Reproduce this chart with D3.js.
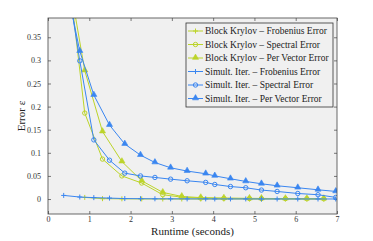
<!DOCTYPE html>
<html>
<head>
<meta charset="utf-8">
<script src="https://cdn.jsdelivr.net/npm/d3@7"></script>
<style>
  body { margin: 0; background: #fff; }
  text { font-family: "Liberation Serif", "DejaVu Serif", serif; }
</style>
</head>
<body>
<script>
// chart size
var w = 373;
var h = 241;
var margin = {top: 18, right: 36, bottom: 27, left: 48};

// runtimes (seconds) for each method
var krylovTime = [0.45, 0.89, 1.32, 1.79, 2.27, 2.78, 3.24, 3.7, 4.26, 4.88, 5.17, 5.75, 6.27, 6.68];
var simultTime = [0.38, 0.77, 1.11, 1.49, 1.86, 2.24, 2.59, 2.97, 3.37, 3.82, 4.04, 4.42, 4.79, 5.17, 5.55, 6.05, 6.54, 6.97];

// error values
var krylovFrob = [null, 0.0035, 0.0008, 0.0004, 0.0002, 0.0001, 0.0001, 0, 0, 0, 0, 0, 0, 0];
var krylovSpec = [0.526, 0.186, 0.0864, 0.050, 0.0346, 0.0093, 0.004, 0.002, 0.0015, 0.001, 0.001, 0.0008, 0.0006, 0.0005];
var krylovPerVec = [0.506, 0.278, 0.146, 0.081, 0.0395, 0.0143, 0.0056, 0.003, 0.002, 0.0015, 0.0013, 0.001, 0.0009, 0.0008];
var simultFrob = [0.0078, 0.0043, 0.003, 0.002, 0.001, 0.0007, 0.0005, 0.0004, 0.0003, 0.0003, 0.0002, 0.0002, 0.0002, 0.0001, 0.0001, 0.0001, 0.0001, 0.0001];
var simultSpec = [0.52, 0.299, 0.128, 0.084, 0.056, 0.050, 0.0467, 0.043, 0.0395, 0.036, 0.0315, 0.027, 0.0244, 0.0194, 0.0164, 0.012, 0.0093, 0.0035];
var simultPerVec = [0.49, 0.32, 0.225, 0.16, 0.119, 0.095, 0.079, 0.0676, 0.0605, 0.0547, 0.050, 0.0439, 0.038, 0.033, 0.0287, 0.0244, 0.020, 0.0164];

// tick labels
var xTicks = [0, 1, 2, 3, 4, 5, 6, 7];
var yTicks = [0, 0.05, 0.1, 0.15, 0.2, 0.25, 0.3, 0.35];

var green = "#bcd42a";
var blue = "#3a86f0";

var series = [
  {name: "Block Krylov \u2013 Frobenius Error", t: krylovTime, e: krylovFrob, color: green, marker: "plus"},
  {name: "Block Krylov \u2013 Spectral Error", t: krylovTime, e: krylovSpec, color: green, marker: "circle"},
  {name: "Block Krylov \u2013 Per Vector Error", t: krylovTime, e: krylovPerVec, color: green, marker: "triangle"},
  {name: "Simult. Iter. \u2013 Frobenius Error", t: simultTime, e: simultFrob, color: blue, marker: "plus"},
  {name: "Simult. Iter. \u2013 Spectral Error", t: simultTime, e: simultSpec, color: blue, marker: "circle"},
  {name: "Simult. Iter. \u2013 Per Vector Error", t: simultTime, e: simultPerVec, color: blue, marker: "triangle"}
];

var svg = d3.select("body")
            .append("svg")
            .attr("width", w)
            .attr("height", h);

var x = d3.scaleLinear().domain([0, 7]).range([margin.left, w - margin.right]);
var y = d3.scaleLinear().domain([-0.0324, 0.3917]).range([h - margin.bottom, margin.top]);

var pw = w - margin.right - margin.left;
var ph = h - margin.bottom - margin.top;

// plot background
svg.append("rect")
  .attr("x", margin.left).attr("y", margin.top)
  .attr("width", pw).attr("height", ph)
  .attr("fill", "#f0f0f0");

svg.append("clipPath").attr("id", "clip")
  .append("rect")
  .attr("x", margin.left).attr("y", margin.top)
  .attr("width", pw).attr("height", ph);

// axes with inward ticks on all sides
function styleAxis(g) {
  g.select(".domain").remove();
  g.selectAll("line").attr("stroke", "#444").attr("stroke-width", 0.7);
  g.selectAll("text").attr("fill", "#333").style("fill", "#333").style("font-size", "8px")
    .style("font-family", "Liberation Serif, serif");
}
svg.append("g")
  .attr("transform", "translate(0," + (h - margin.bottom) + ")")
  .call(d3.axisBottom(x).tickValues(xTicks).tickSize(-3).tickPadding(2).tickFormat(d3.format("d")))
  .call(styleAxis);
svg.append("g")
  .attr("transform", "translate(0," + margin.top + ")")
  .call(d3.axisTop(x).tickValues(xTicks).tickSize(-3).tickFormat(""))
  .call(styleAxis);
svg.append("g")
  .attr("transform", "translate(" + margin.left + ",0)")
  .call(d3.axisLeft(y).tickValues(yTicks).tickSize(-3).tickPadding(7).tickFormat(function(d) { return d3.format("~g")(d); }))
  .call(styleAxis);
svg.append("g")
  .attr("transform", "translate(" + (w - margin.right) + ",0)")
  .call(d3.axisRight(y).tickValues(yTicks).tickSize(-3).tickFormat(""))
  .call(styleAxis);

var plot = svg.append("g").attr("clip-path", "url(#clip)");

var line = d3.line()
  .defined(function(d) { return d[1] !== null; })
  .x(function(d) { return x(d[0]); })
  .y(function(d) { return y(d[1]); });

function drawMarker(g, type, cx, cy, color) {
  if (type === "plus") {
    g.append("path")
      .attr("d", "M" + (cx - 2.5) + "," + cy + "H" + (cx + 2.5) + "M" + cx + "," + (cy - 2.5) + "V" + (cy + 2.5))
      .attr("stroke", color).attr("stroke-width", 1);
  } else if (type === "circle") {
    g.append("circle").attr("cx", cx).attr("cy", cy).attr("r", 2.2)
      .attr("fill", "none").attr("stroke", color).attr("stroke-width", 1);
  } else {
    g.append("path")
      .attr("d", d3.symbol().type(d3.symbolTriangle).size(16)())
      .attr("transform", "translate(" + cx + "," + (cy - 0.4) + ")")
      .attr("fill", color).attr("stroke", color).attr("stroke-width", 0.6);
  }
}

series.forEach(function(s) {
  var pts = s.t.map(function(t, i) { return [t, s.e[i]]; });
  plot.append("path")
    .datum(pts)
    .attr("d", line)
    .attr("fill", "none")
    .attr("stroke", s.color)
    .attr("stroke-width", 1);
  pts.forEach(function(p) {
    if (p[1] === null) return;
    drawMarker(plot, s.marker, x(p[0]), y(p[1]), s.color);
  });
});

// plot frame
svg.append("rect")
  .attr("x", margin.left).attr("y", margin.top)
  .attr("width", pw).attr("height", ph)
  .attr("fill", "none").attr("stroke", "#444").attr("stroke-width", 0.8);

// legend
var lg = svg.append("g").attr("transform", "translate(186,23)");
lg.append("rect")
  .attr("width", 147).attr("height", 84)
  .attr("fill", "#f0f0f0").attr("stroke", "#333").attr("stroke-width", 0.8);
series.forEach(function(s, i) {
  var ly = 8 + i * 13.5;
  lg.append("line")
    .attr("x1", 2).attr("x2", 17).attr("y1", ly).attr("y2", ly)
    .attr("stroke", s.color).attr("stroke-width", 1);
  drawMarker(lg, s.marker, 9.5, ly, s.color);
  lg.append("text")
    .attr("x", 19).attr("y", ly + 3.3)
    .attr("fill", "#222")
    .style("font-size", "9.5px")
    .text(s.name);
});

// axis titles
svg.append("text")
  .attr("x", (margin.left + w - margin.right) / 2)
  .attr("y", 235)
  .attr("text-anchor", "middle")
  .attr("fill", "#222")
  .style("font-size", "11px")
  .text("Runtime (seconds)");
svg.append("text")
  .attr("transform", "translate(25," + (margin.top + ph / 2) + ") rotate(-90)")
  .attr("text-anchor", "middle")
  .attr("fill", "#222")
  .style("font-size", "11px")
  .text("Error \u03b5");
</script>
</body>
</html>
